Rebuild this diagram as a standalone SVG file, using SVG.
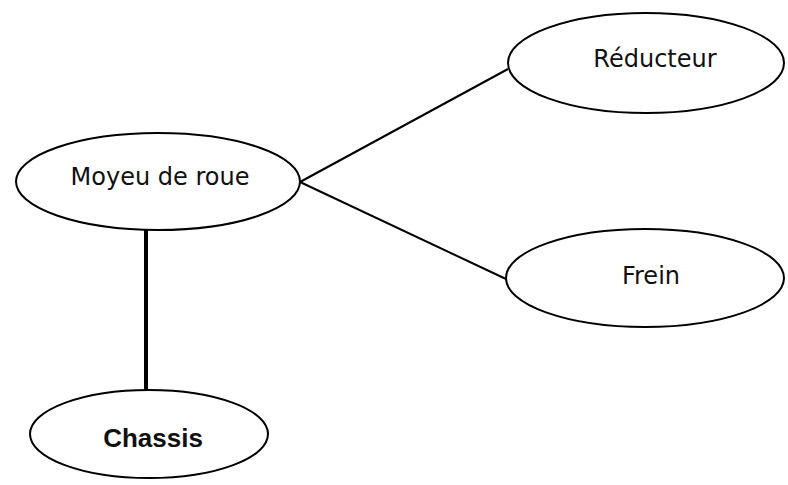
<svg xmlns="http://www.w3.org/2000/svg" width="788" height="485" viewBox="0 0 788 485">
<style>
.n{fill:#fff;stroke:#000;stroke-width:2}
.t{font-family:"DejaVu Sans",Verdana,sans-serif;font-size:24px;fill:#111;text-anchor:middle}
.c{stroke:#000;fill:none}
</style>
<rect width="788" height="485" fill="#fff"/>
<g id="connectors">
<line class="c" x1="300" y1="182" x2="508" y2="69" stroke-width="2"/>
<line class="c" x1="300" y1="182" x2="506" y2="279" stroke-width="2"/>
<line class="c" x1="146" y1="230" x2="146" y2="391" stroke-width="4"/>
</g>
<g id="moyeu">
<ellipse class="n" cx="158" cy="181.5" rx="142" ry="48.5"/>
<text class="t" x="160" y="185">Moyeu de roue</text>
</g>
<g id="reducteur">
<ellipse class="n" cx="646" cy="63" rx="138" ry="50"/>
<text class="t" x="655" y="67">Réducteur</text>
</g>
<g id="frein">
<ellipse class="n" cx="645" cy="278" rx="139" ry="49"/>
<text class="t" x="651" y="284">Frein</text>
</g>
<g id="chassis">
<ellipse class="n" cx="149" cy="434" rx="119" ry="44" stroke-width="3"/>
<text x="153" y="447" font-family="'Liberation Sans',Arial,sans-serif" font-weight="bold" font-size="26" fill="#111" text-anchor="middle">Chassis</text>
</g>
</svg>
